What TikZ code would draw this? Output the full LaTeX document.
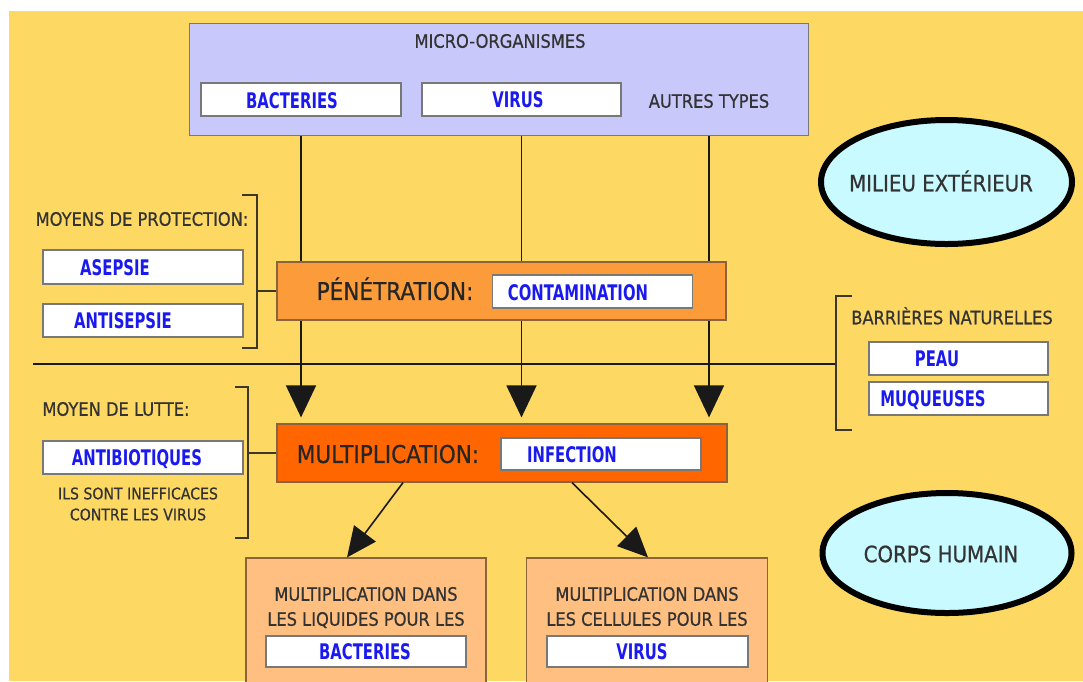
\documentclass[tikz,border=0pt]{standalone}
\usepackage{fontspec}
\setmainfont{DejaVu Sans}[FakeStretch=0.88,FakeBold=0.6]
\newfontfamily\bluefont{DejaVu Sans Bold}[FakeStretch=0.69]
\usetikzlibrary{arrows.meta,shapes.geometric}
\definecolor{bgy}{RGB}{253,216,98}
\definecolor{lav}{RGB}{200,200,250}
\definecolor{penc}{RGB}{252,155,58}
\definecolor{mulc}{RGB}{255,102,0}
\definecolor{lowc}{RGB}{255,191,128}
\definecolor{ellc}{RGB}{200,250,255}
\definecolor{txt}{RGB}{51,51,51}
\definecolor{bluet}{RGB}{26,26,240}
\definecolor{boxgray}{RGB}{120,120,120}
\definecolor{boxbrown}{RGB}{140,100,60}
\definecolor{brkc}{RGB}{60,55,40}
\pgfdeclarelayer{back}
\pgfdeclarelayer{bg}
\pgfsetlayers{back,bg,main}
\tikzset{
  lab/.style={text=txt, font=\fontsize{18.5}{21}\selectfont, inner sep=0pt, text height=13.5pt, text depth=0pt},
  small/.style={text=txt, font=\fontsize{16}{21}\selectfont, inner sep=0pt, align=center},
  big/.style={text=black!85, font=\fontsize{24.5}{27}\selectfont, inner sep=0pt, text height=17.9pt, text depth=0pt},
  elltxt/.style={text=txt, font=\fontsize{22.5}{25}\selectfont},
  wbox/.style={draw=boxgray, fill=white, line width=1.2pt, inner sep=0pt, minimum width=200pt, minimum height=33pt},
  btxt/.style={text=bluet, font=\bluefont\fontsize{21.5}{23}\selectfont, inner sep=0pt, text height=15.7pt, text depth=0pt},
  bigbox/.style={draw=boxbrown, line width=1.2pt, inner sep=0pt},
  conn/.style={draw=black!90, line width=1.6pt},
  arr/.style={conn, -{Triangle[width=30pt,length=32pt]}},
  arrb/.style={conn, -{Triangle[width=27pt,length=30pt]}},
  brk/.style={draw=brkc, line width=2.6pt},
  ell/.style={ellipse, draw=black, line width=6pt, fill=ellc, inner sep=0pt}
}
\begin{document}
\begin{tikzpicture}[x=1pt,y=-1pt]
\clip (0,0) rectangle (1083,681);
\begin{pgfonlayer}{back}
  \fill[white] (0,0) rectangle (1083,681);
  \fill[bgy] (9,11) rectangle (1083,681);
\end{pgfonlayer}

% top box
\node[draw=boxgray, fill=lav, line width=1.2pt, minimum width=619pt, minimum height=112pt] (micro) at (499,79.5) {};
\node[lab] (microt) at (500,41) {MICRO-ORGANISMES};
\node[wbox] (bact) at (301,99.5) {};
\node[btxt] at (292,101) {BACTERIES};
\node[wbox, minimum width=199pt] (virus) at (521.5,99.5) {};
\node[btxt] at (518,100) {VIRUS};
\node[lab] (autres) at (709,101) {AUTRES TYPES};

% ellipses
\node[ell, minimum width=251pt, minimum height=124pt] (milieu) at (946.5,182) {};
\node[elltxt] at (941,181) {MILIEU EXTÉRIEUR};
\node[ell, minimum width=249pt, minimum height=120pt] (corps) at (947,553) {};
\node[elltxt] at (941,554) {CORPS HUMAIN};

% left protection
\node[lab] (mopro) at (142,219) {MOYENS DE PROTECTION:};
\node[wbox, minimum height=34pt] (asep) at (143,267) {};
\node[btxt] at (115,268) {ASEPSIE};
\node[wbox] (antis) at (143,320.5) {};
\node[btxt] at (123,321) {ANTISEPSIE};

% penetration
\node[bigbox, fill=penc, minimum width=449pt, minimum height=58pt] (pen) at (501.5,291) {};
\node[big] at (395,291) {PÉNÉTRATION:};
\node[wbox] (cont) at (592.5,291.5) {};
\node[btxt] at (578,293) {CONTAMINATION};

% multiplication
\node[bigbox, fill=mulc, minimum width=450pt, minimum height=58pt] (mult) at (502,453) {};
\node[big] at (388,454) {MULTIPLICATION:};
\node[wbox, minimum height=32pt] (inf) at (601,454) {};
\node[btxt] at (572,455) {INFECTION};

% left lutte
\node[lab] (lutte) at (116,409) {MOYEN DE LUTTE:};
\node[wbox] (antib) at (143,457.5) {};
\node[btxt] at (137,458) {ANTIBIOTIQUES};
\node[small] (ils) at (138,504) {ILS SONT INEFFICACES\\CONTRE LES VIRUS};

% right barrieres
\node[lab] (barr) at (952,317.5) {BARRIÈRES NATURELLES};
\node[wbox, minimum width=179pt] (peau) at (958.5,358.5) {};
\node[btxt] at (937,359) {PEAU};
\node[wbox, minimum width=179pt] (muq) at (958.5,398.5) {};
\node[btxt] at (933,399) {MUQUEUSES};

% bottom boxes
\node[bigbox, fill=lowc, minimum width=240pt, minimum height=142pt] (lbox) at (366,629) {};
\node[lab] at (366,594) {MULTIPLICATION DANS};
\node[lab] at (366,619) {LES LIQUIDES POUR LES};
\node[wbox, minimum height=31pt] (lbact) at (366,651.5) {};
\node[btxt] at (365,652) {BACTERIES};
\node[bigbox, fill=lowc, minimum width=241pt, minimum height=142pt] (rbox) at (647,629) {};
\node[lab] at (647,594) {MULTIPLICATION DANS};
\node[lab] at (647,619) {LES CELLULES POUR LES};
\node[wbox, minimum width=201pt, minimum height=31pt] (rvir) at (647.5,651.5) {};
\node[btxt] at (642,652) {VIRUS};

% brackets
\coordinate (lb1) at (257,195);
\coordinate (lb2) at (248,387);
\coordinate (hl) at (33,364);
\coordinate (rb) at (836,364);
\draw[brk] (242,195) -- (lb1) -- (257,348) -- (242,348);
\draw[brk] (pen.west) -- (pen.west -| lb1);
\draw[brk] (235,387) -- (lb2) -- (248,538) -- (235,538);
\draw[brk] (mult.west) -- (mult.west -| lb2);
\draw[brk] (852,296) -- (836,296) -- (836,430) -- (852,430);

\begin{pgfonlayer}{bg}
  \draw[arr, shorten >=6pt] (bact.south) -- (bact.south |- mult.north);
  \draw[arr, shorten >=6pt] (virus.south) -- (virus.south |- mult.north);
  \draw[arr, shorten >=6pt, shorten <=5pt] (autres.south) -- (autres.south |- mult.north);
  \draw[conn, line width=2pt] (hl) -- (rb);
\end{pgfonlayer}
\draw[arrb] ([xshift=-99pt]mult.south) -- ([xshift=-19pt]lbox.north);
\draw[arrb] ([xshift=70pt]mult.south) -- ([xshift=1pt]rbox.north);
\end{tikzpicture}
\end{document}
